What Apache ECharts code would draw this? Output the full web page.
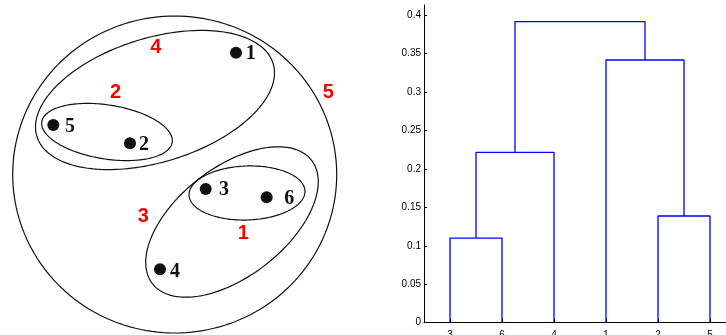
<!DOCTYPE html>
<html>
<head>
<meta charset="utf-8">
<script src="https://cdn.jsdelivr.net/npm/echarts@6/dist/echarts.min.js"></script>
<style>
html,body{margin:0;padding:0;background:#fff;}
#c{width:726px;height:335px;}
</style>
</head>
<body>
<div id="c"></div>
<script>
// ---- Left panel: points and nested clusters (drawing units = pixels of the panel) ----
const pointIds = [1, 2, 3, 4, 5, 6];
const pointX = [236, 130, 205.7, 160, 53.3, 266.7];
const pointY = [52.7, 143.3, 189, 269.3, 125, 197.3];
const pointLabelX = [250.8, 144, 224, 175, 70, 289.2];
const pointLabelY = [53.8, 145, 190, 271.7, 126.7, 199];

const clusterIds = [1, 2, 3, 4, 5];
const clusterCx = [247, 107, 232, 155, 174.7];
const clusterCy = [193, 132, 222, 100, 174.5];
const clusterRx = [58, 66, 100.7, 123.6, 162];
const clusterRy = [27, 27, 54.4, 62, 158.5];
const clusterAngle = [-2, 9, -37.8, -17.2, 0];
const clusterLabelX = [243.3, 115.5, 143.3, 155.8, 328.3];
const clusterLabelY = [233.3, 92.8, 216.2, 47.5, 92.3];

// ---- Right panel: dendrogram (linkage) ----
const leafOrder = [3, 6, 4, 1, 2, 5];
const mergePairs = [[3, 6], [2, 5], [7, 4], [1, 8], [9, 10]];
const mergeHeights = [0.110, 0.1387, 0.2215, 0.3415, 0.3913];
const yTicks = [0, 0.05, 0.1, 0.15, 0.2, 0.25, 0.3, 0.35, 0.4];
const xTicks = [1, 2, 3, 4, 5, 6];

// node positions from the linkage
const nodeX = {}, nodeY = {};
leafOrder.forEach((leaf, i) => { nodeX[leaf] = i + 1; nodeY[leaf] = 0; });
const dendroSeries = mergePairs.map((pair, k) => {
  const id = 7 + k, a = pair[0], b = pair[1], h = mergeHeights[k];
  nodeX[id] = (nodeX[a] + nodeX[b]) / 2; nodeY[id] = h;
  return {
    type: 'line', xAxisIndex: 1, yAxisIndex: 1,
    data: [[nodeX[a], nodeY[a]], [nodeX[a], h], [nodeX[b], h], [nodeX[b], nodeY[b]]],
    symbol: 'none', lineStyle: { color: '#0000ff', width: 1.3 },
    silent: true, clip: false
  };
});

const chart = echarts.init(document.getElementById('c'), null, { renderer: 'canvas' });

const option = {
  animation: false,
  backgroundColor: '#fff',
  grid: [
    { left: 0, top: 0, width: 370, height: 335, outerBoundsMode: 'none', containLabel: false },
    { left: 424, top: 5, width: 302, height: 317.7, outerBoundsMode: 'none', containLabel: false }
  ],
  xAxis: [
    { gridIndex: 0, type: 'value', min: 0, max: 370, show: false },
    {
      gridIndex: 1, type: 'value', min: 0.5, max: 6.3077,
      axisLine: { show: true, onZero: false, lineStyle: { color: '#000', width: 1 } },
      axisTick: { show: true, inside: true, length: 4, customValues: xTicks, lineStyle: { color: '#000' } },
      axisLabel: {
        customValues: xTicks, margin: 8, fontSize: 10, color: '#000',
        fontFamily: 'Liberation Sans',
        formatter: v => String(leafOrder[Math.round(v) - 1])
      },
      splitLine: { show: false }
    }
  ],
  yAxis: [
    { gridIndex: 0, type: 'value', min: 0, max: 335, inverse: true, show: false },
    {
      gridIndex: 1, type: 'value', min: 0, max: 0.413,
      axisLine: { show: true, onZero: false, lineStyle: { color: '#000', width: 1 } },
      axisTick: { show: true, inside: true, length: 3, customValues: yTicks, lineStyle: { color: '#000' } },
      axisLabel: {
        customValues: yTicks, margin: 3, fontSize: 10, color: '#000',
        fontFamily: 'Liberation Sans',
        formatter: v => String(+Number(v).toFixed(2))
      },
      splitLine: { show: false }
    }
  ],
  series: [
    {
      type: 'custom', xAxisIndex: 0, yAxisIndex: 0, silent: true,
      data: clusterIds.map((id, i) => [clusterCx[i], clusterCy[i], clusterRx[i], clusterRy[i], clusterAngle[i]]),
      renderItem: function (params, api) {
        const cx = api.value(0), cy = api.value(1), rx = api.value(2), ry = api.value(3);
        const th = api.value(4) * Math.PI / 180;
        const pts = [];
        const N = 180;
        for (let j = 0; j < N; j++) {
          const t = 2 * Math.PI * j / N;
          const x = cx + rx * Math.cos(t) * Math.cos(th) - ry * Math.sin(t) * Math.sin(th);
          const y = cy + rx * Math.cos(t) * Math.sin(th) + ry * Math.sin(t) * Math.cos(th);
          pts.push(api.coord([x, y]));
        }
        return { type: 'polygon', shape: { points: pts }, style: { fill: 'none', stroke: '#111', lineWidth: 1.2 } };
      }
    },
    {
      type: 'scatter', xAxisIndex: 0, yAxisIndex: 0, silent: true,
      data: pointIds.map((id, i) => [pointX[i], pointY[i]]),
      symbol: 'circle', symbolSize: 12,
      itemStyle: { color: '#111', opacity: 1 }
    },
    {
      type: 'custom', xAxisIndex: 0, yAxisIndex: 0, silent: true,
      data: pointIds.map((id, i) => [pointLabelX[i], pointLabelY[i], id]),
      renderItem: function (params, api) {
        const p = api.coord([api.value(0), api.value(1)]);
        return {
          type: 'text',
          style: {
            x: p[0], y: p[1], text: String(api.value(2)),
            textAlign: 'center', textVerticalAlign: 'middle',
            font: 'bold 20px "Liberation Serif"', fill: '#111'
          }
        };
      }
    },
    {
      type: 'custom', xAxisIndex: 0, yAxisIndex: 0, silent: true,
      data: clusterIds.map((id, i) => [clusterLabelX[i], clusterLabelY[i], id]),
      renderItem: function (params, api) {
        const p = api.coord([api.value(0), api.value(1)]);
        return {
          type: 'text',
          style: {
            x: p[0], y: p[1], text: String(api.value(2)),
            textAlign: 'center', textVerticalAlign: 'middle',
            font: 'bold 20px "Liberation Sans"', fill: '#ff0000'
          }
        };
      }
    }
  ].concat(dendroSeries)
};
chart.setOption(option);
</script>
</body>
</html>
